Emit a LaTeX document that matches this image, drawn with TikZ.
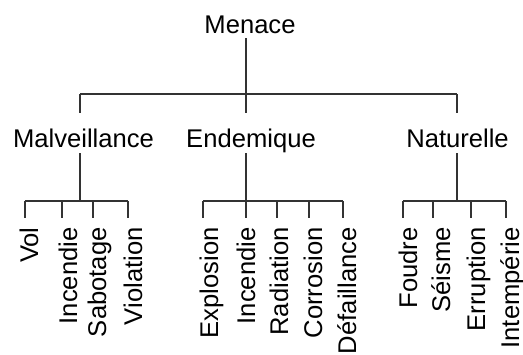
\documentclass[tikz,border=0pt]{standalone}
\usepackage{fontspec}
\setmainfont{Liberation Sans}
\usetikzlibrary{positioning,calc}

\begin{document}
\begin{tikzpicture}[
    x=0.5pt, y=-0.5pt,
    lbl/.style={font=\fontsize{12.8}{15}\selectfont, inner sep=0pt, anchor=base},
    leaf/.style={lbl, rotate=90, anchor=base east},
    wire/.style={draw=black!80, line width=0.6pt}
]
    \useasboundingbox (0,0) rectangle (523,354);

    % Root and second level
    \node[lbl] (menace) at (250,33) {Menace};
    \node[lbl] (malv) at (83.5,147) {Malveillance};
    \node[lbl] (endem) at (251,147) {Endemique};
    \node[lbl] (natur) at (457.5,147) {Naturelle};

    % Top bus
    \coordinate (tl) at (80,94);
    \coordinate (tm) at (246,94);
    \coordinate (tr) at (457,94);
    \draw[wire] (tl) -- (tr);
    \draw[wire, shorten <=2.5pt] (menace.base -| tm) -- (tm);
    \draw[wire, shorten >=7.5pt] (tl) -- (tl |- malv.north);
    \draw[wire, shorten >=7.5pt] (tm) -- (tm |- endem.north);
    \draw[wire, shorten >=7.5pt] (tr) -- (tr |- natur.north);

    % Malveillance leaves
    \node[leaf] (vol) at (38,227) {Vol};
    \node[leaf] (incm) at (77,227) {Incendie};
    \node[leaf] (sabo) at (106,227) {Sabotage};
    \node[leaf] (viol) at (142,227) {Violation};
    \coordinate (mj) at (80,201);
    \coordinate (vol-t) at (25,201);
    \coordinate (incm-t) at (62,201);
    \coordinate (sabo-t) at (93,201);
    \coordinate (viol-t) at (128,201);
    \draw[wire, shorten <=3pt] (malv.base -| mj) -- (mj);
    \draw[wire] (vol-t) -- (viol-t);
    \draw[wire, shorten >=4.5pt] (vol-t) -- (vol-t |- vol.east);
    \draw[wire, shorten >=4.5pt] (incm-t) -- (incm-t |- incm.east);
    \draw[wire, shorten >=4.5pt] (sabo-t) -- (sabo-t |- sabo.east);
    \draw[wire, shorten >=4.5pt] (viol-t) -- (viol-t |- viol.east);

    % Endemique leaves
    \node[leaf] (expl) at (218,227) {Explosion};
    \node[leaf] (ince) at (255,227) {Incendie};
    \node[leaf] (radi) at (288,227) {Radiation};
    \node[leaf] (corr) at (322,227) {Corrosion};
    \node[leaf] (defa) at (356,227) {Défaillance};
    \coordinate (ej) at (246,201);
    \coordinate (expl-t) at (203,201);
    \coordinate (ince-t) at (246,201);
    \coordinate (radi-t) at (277,201);
    \coordinate (corr-t) at (309,201);
    \coordinate (defa-t) at (343,201);
    \draw[wire, shorten <=3pt] (endem.base -| ej) -- (ej);
    \draw[wire] (expl-t) -- (defa-t);
    \draw[wire, shorten >=4.5pt] (expl-t) -- (expl-t |- expl.east);
    \draw[wire, shorten >=4.5pt] (ince-t) -- (ince-t |- ince.east);
    \draw[wire, shorten >=4.5pt] (radi-t) -- (radi-t |- radi.east);
    \draw[wire, shorten >=4.5pt] (corr-t) -- (corr-t |- corr.east);
    \draw[wire, shorten >=4.5pt] (defa-t) -- (defa-t |- defa.east);

    % Naturelle leaves
    \node[leaf] (foud) at (417,227) {Foudre};
    \node[leaf] (seis) at (450,227) {Séisme};
    \node[leaf] (erru) at (485,227) {Erruption};
    \node[leaf] (inte) at (519,227) {Intempérie};
    \coordinate (nj) at (457,201);
    \coordinate (foud-t) at (403,201);
    \coordinate (seis-t) at (433,201);
    \coordinate (erru-t) at (471,201);
    \coordinate (inte-t) at (506,201);
    \draw[wire, shorten <=3pt] (natur.base -| nj) -- (nj);
    \draw[wire] (foud-t) -- (inte-t);
    \draw[wire, shorten >=4.5pt] (foud-t) -- (foud-t |- foud.east);
    \draw[wire, shorten >=4.5pt] (seis-t) -- (seis-t |- seis.east);
    \draw[wire, shorten >=4.5pt] (erru-t) -- (erru-t |- erru.east);
    \draw[wire, shorten >=4.5pt] (inte-t) -- (inte-t |- inte.east);
\end{tikzpicture}
\end{document}
